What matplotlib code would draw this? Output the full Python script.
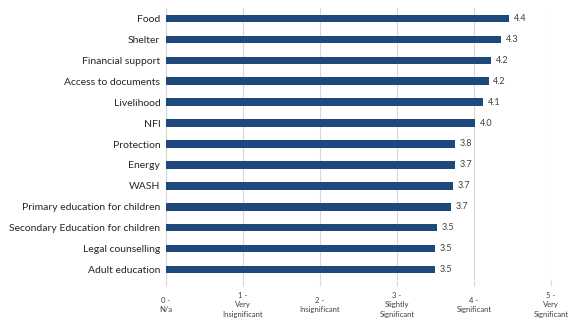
import matplotlib.pyplot as plt

categories = ["Food", "Shelter", "Financial support", "Access to documents", "Livelihood",
              "NFI", "Protection", "Energy", "WASH", "Primary education for children",
              "Secondary Education for children", "Legal counselling", "Adult education"]
values = [4.46, 4.35, 4.22, 4.19, 4.12, 4.02, 3.76, 3.75, 3.73, 3.70, 3.52, 3.50, 3.49]
value_labels = ["4.4", "4.3", "4.2", "4.2", "4.1", "4.0", "3.8", "3.7", "3.7", "3.7", "3.5", "3.5", "3.5"]
tick_labels = ["0 -\nN/a", "1 -\nVery\nInsignificant", "2 -\nInsignificant",
               "3 -\nSlightly\nSignificant", "4 -\nSignificant", "5 -\nVery\nSignificant"]

plt.rcParams['font.family'] = ['Lato', 'DejaVu Sans']

fig = plt.figure(figsize=(5.68, 3.2), dpi=100)
ax = fig.add_axes([0.292, 0.125, 0.678, 0.85])

bar_color = '#1F497D'
ypos = list(range(len(categories)))
ax.barh(ypos, values, height=0.36, color=bar_color, zorder=3)
for y, v, lab in zip(ypos, values, value_labels):
    ax.text(v + 0.06, y, lab, va='center', ha='left', fontsize=6.5, color='#404040')

ax.set_yticks(ypos)
ax.set_yticklabels(categories, fontsize=7.5, color='#262626')
ax.set_ylim(len(categories) - 0.5, -0.5)
ax.tick_params(axis='y', length=0, pad=4)

ax.set_xlim(0, 5)
ax.set_xticks(range(6))
ax.set_xticklabels(tick_labels, fontsize=5.5, color='#404040', linespacing=1.4, va='center')
ax.tick_params(axis='x', length=4, color='#d9d9d9', pad=14)
ax.xaxis.grid(True, color='#d9d9d9', linewidth=0.8, zorder=0)

for s in ['top', 'right', 'bottom']:
    ax.spines[s].set_visible(False)
ax.spines['left'].set_color('#d9d9d9')
ax.spines['left'].set_linewidth(0.8)

fig.savefig('out.png', dpi=100)
